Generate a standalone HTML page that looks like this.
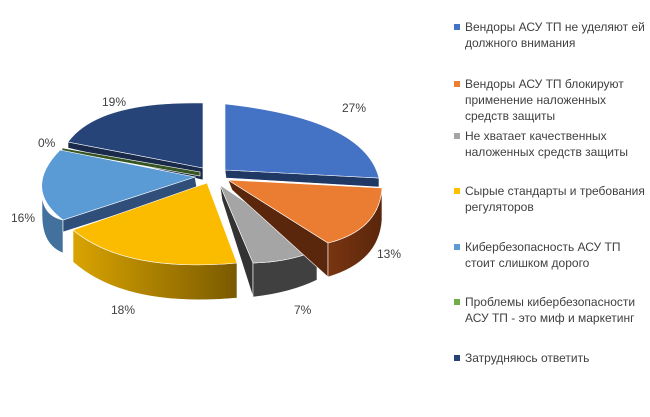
<!DOCTYPE html>
<html><head><meta charset="utf-8"><style>
html,body{margin:0;padding:0;background:#fff;}
body{width:650px;height:417px;overflow:hidden;position:relative;font-family:"Liberation Sans",sans-serif;}
.lg{position:absolute;left:465px;font-size:12px;line-height:16px;color:#404040;}
.sq{position:absolute;left:-11px;top:5px;width:6px;height:6px;}
.pl{position:absolute;font-size:12px;color:#404040;}
</style></head><body>
<svg width="650" height="417" style="position:absolute;left:0;top:0">
<defs>
<linearGradient id="yg" x1="0" x2="1" y1="0" y2="0"><stop offset="0" stop-color="#d9a400"/><stop offset="1" stop-color="#7a5a00"/></linearGradient>
<linearGradient id="og" x1="0" x2="1" y1="0" y2="0"><stop offset="0" stop-color="#7a3510"/><stop offset="1" stop-color="#5a260c"/></linearGradient>
</defs>
<g stroke="#fff" stroke-width="0.6">
<!-- navy 19 -->
<path d="M68,142 L203,168 L203,180 L68,148 Z" fill="#1a2a4a"/>
<path d="M203,168 L203,103 Q98,101 68,142 Z" fill="#264478"/>
<!-- green -->
<path d="M62,148 L200,172 L200,176 L62,151 Z" fill="#375623"/>
<!-- light blue -->
<path d="M42,187 Q40,215 63,220 L63,253 Q42,245 42,215 Z" fill="#41719c"/>
<path d="M195,177 L63,220 L63,232 L197,189 Z" fill="#2f4f7a"/>
<path d="M195,177 L63,220 Q22,189 60,150 Z" fill="#5b9bd5"/>
<!-- yellow -->
<path d="M73,230 Q125,273 237,263 L237,298 Q125,308 73,262 Z" fill="url(#yg)"/>
<path d="M207,183 L237,263 Q125,273 73,230 Z" fill="#fbbc00"/>
<!-- gray -->
<path d="M220,185 L253,263 L253,297 L222,200 Z" fill="#333"/>
<path d="M253,263 Q290,262 317,250 L317,280 Q290,293 253,297 Z" fill="#404040"/>
<path d="M220,185 L317,250 Q290,262 253,263 Z" fill="#a5a5a5"/>
<!-- orange -->
<path d="M228,180 L328,243 L328,277 L232,190 Z" fill="#5a260c"/>
<path d="M382,188 Q379,230 328,243 L328,277 Q379,262 382,220 Z" fill="url(#og)"/>
<path d="M228,180 L382,188 Q379,230 328,243 Z" fill="#ea7d31"/>
<!-- blue -->
<path d="M225,170 L379,178 L379,187 L226,178 Z" fill="#1f3864"/>
<path d="M225,104 Q364,119 379,178 L225,170 Z" fill="#4472c4"/>
</g>
</svg>
<div class="pl" style="left:342px;top:101px">27%</div>
<div class="pl" style="left:377px;top:247px">13%</div>
<div class="pl" style="left:294px;top:303px">7%</div>
<div class="pl" style="left:111px;top:303px">18%</div>
<div class="pl" style="left:11px;top:211px">16%</div>
<div class="pl" style="left:38px;top:136px">0%</div>
<div class="pl" style="left:102px;top:95px">19%</div>

<div class="lg" style="top:19px"><span class="sq" style="background:#4472c4"></span>Вендоры АСУ ТП не уделяют ей<br>должного внимания</div>
<div class="lg" style="top:76px"><span class="sq" style="background:#ed7d31"></span>Вендоры АСУ ТП блокируют<br>применение наложенных<br>средств защиты</div>
<div class="lg" style="top:128px"><span class="sq" style="background:#a5a5a5"></span>Не хватает качественных<br>наложенных средств защиты</div>
<div class="lg" style="top:183px"><span class="sq" style="background:#ffc000"></span>Сырые стандарты и требования<br>регуляторов</div>
<div class="lg" style="top:239px"><span class="sq" style="background:#5b9bd5"></span>Кибербезопасность АСУ ТП<br>стоит слишком дорого</div>
<div class="lg" style="top:294px"><span class="sq" style="background:#70ad47"></span>Проблемы кибербезопасности<br>АСУ ТП - это миф и маркетинг</div>
<div class="lg" style="top:350px"><span class="sq" style="background:#264478"></span>Затрудняюсь ответить</div>
</body></html>
